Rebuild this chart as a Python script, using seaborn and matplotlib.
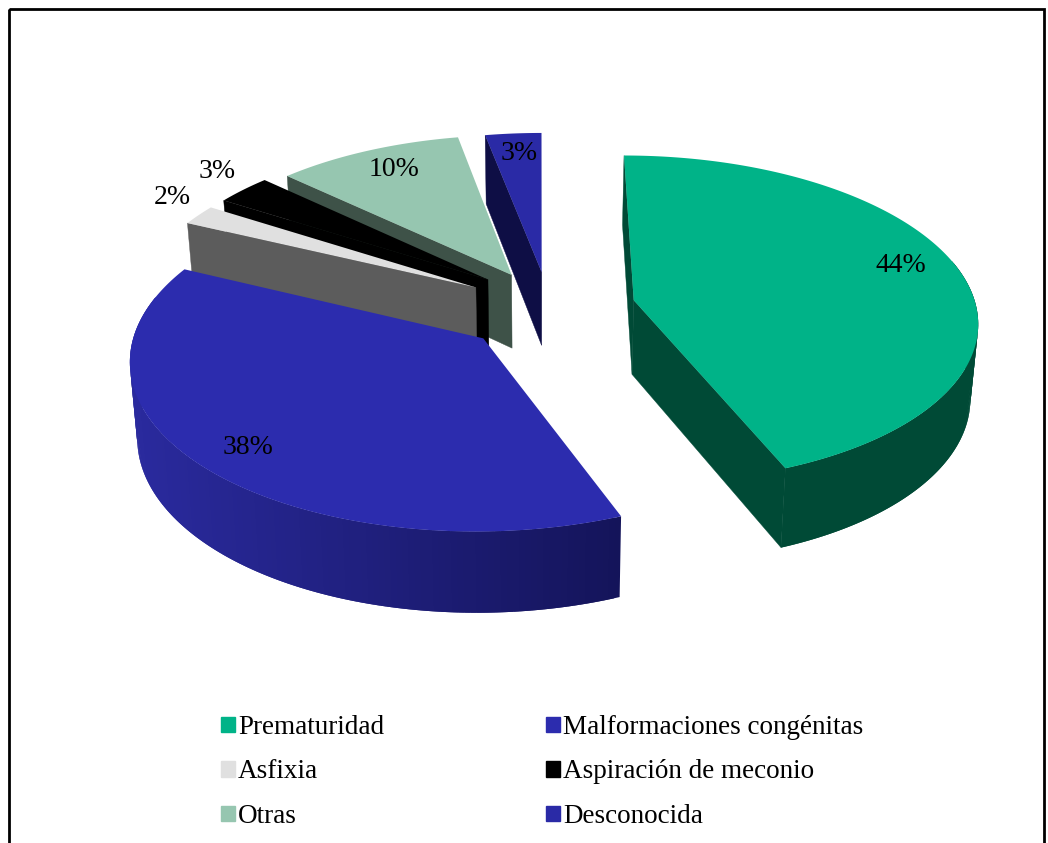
import numpy as np
import matplotlib
matplotlib.use("Agg")
import matplotlib.pyplot as plt
from matplotlib.colors import to_rgb
from matplotlib.patches import Patch, Rectangle
import seaborn as sns

# ---- data ----
categories = ["Prematuridad", "Malformaciones congénitas", "Asfixia",
              "Aspiración de meconio", "Otras", "Desconocida"]
values = [44, 38, 2, 3, 10, 3]

# ---- style ----
top_colors = ["#00b388", "#2c2cae", "#e0e0e0", "#000000", "#96c6b0", "#2a2aa6"]
radial_colors = ["#004a36", "#14145a", "#5c5c5c", "#000000", "#3e5248", "#0e0e45"]
wall_left = ["#004a36", "#2a2a9e", "#5c5c5c", "#000000", "#3e5248", "#0e0e45"]
wall_right = ["#004a36", "#14145a", "#5c5c5c", "#000000", "#3e5248", "#0e0e45"]
offset_u = [0.275, -0.162, -0.19, -0.155, -0.085, 0.005]
offset_v = [-0.02, -0.25, 0.06, 0.11, 0.14, 0.157]
label_xy = [(901, 265), (248, 448), (172, 198), (217, 172), (394, 169), (519, 153)]
draw_order = [5, 0, 4, 3, 2, 1]

VP_X, VP_Y, BASE_Y = 540.0, -1100.0, 297.0
RADIUS, PERSP, HEIGHT, SHRINK = 340.0, 0.115, 74.0, 0.018

sns.set_theme(style="white")
plt.rcParams["font.family"] = ["Liberation Serif", "DejaVu Serif"]
palette = sns.color_palette(top_colors)

fig = plt.figure(figsize=(10.48, 8.43), dpi=100)
ax = fig.add_axes([0, 0, 1, 1])
ax.set_xlim(0, 1048)
ax.set_ylim(843, 0)
ax.axis("off")


def project(u, v, z=0.0):
    w = 1.0 / (1.0 + PERSP * v)
    return (VP_X + RADIUS * u * w * (1.0 - SHRINK * z),
            VP_Y + (BASE_Y - VP_Y) * w + HEIGHT * z * w ** 0.6)


def mix(c1, c2, t):
    a, b = np.array(to_rgb(c1)), np.array(to_rgb(c2))
    return tuple(a + (b - a) * np.clip(t, 0, 1))


edges = np.cumsum([0] + values) / np.sum(values) * 2 * np.pi
for rank, i in enumerate(draw_order):
    a0, a1 = edges[i], edges[i + 1]
    th = np.linspace(a0, a1, max(int(values[i] * 4), 6) + 1)
    us = offset_u[i] + np.sin(th)
    vs = offset_v[i] + np.cos(th)
    au, av = offset_u[i], offset_v[i]
    z = 10 + rank * 3
    xt, yt = project(us, vs)
    xb, yb = project(us, vs, 1)
    pa, qa = project(au, av), project(au, av, 1)
    mid = len(th) // 2
    # radial faces, only where they turn towards the viewer
    for idx in (0, -1):
        ex, ey = xt[idx] - pa[0], yt[idx] - pa[1]
        side_mid = ex * (yt[mid] - pa[1]) - ey * (xt[mid] - pa[0])
        if ex * side_mid < 0:
            ax.fill([pa[0], xt[idx], xb[idx], qa[0]], [pa[1], yt[idx], yb[idx], qa[1]],
                    color=radial_colors[i], lw=0.3, zorder=z)
    # outer wall: overlapping strips so that the gradient has no seams
    vis = np.where(np.cos(th) < 0.25)[0]
    if len(vis) > 1:
        xmin, xmax = xt[vis].min(), xt[vis].max()
        for n in range(len(vis) - 1):
            a, b = vis[n], vis[n + 1]
            c = vis[min(n + 2, len(vis) - 1)]
            t = ((xt[a] + xt[b]) / 2 - xmin) / max(xmax - xmin, 1)
            ax.fill([xt[a], xt[b], xt[c], xb[c], xb[b], xb[a]],
                    [yt[a], yt[b], yt[c], yb[c], yb[b], yb[a]],
                    color=mix(wall_left[i], wall_right[i], t), lw=0, zorder=z + 1)
    # top face
    ax.fill(np.r_[pa[0], xt], np.r_[pa[1], yt], color=palette[i], lw=0, zorder=z + 2)

for (lx, ly), val in zip(label_xy, values):
    ax.text(lx, ly, f"{val}%", ha="center", va="center", fontsize=20,
            color="black", zorder=50)

# frame, cut by the bottom of the picture
ax.add_patch(Rectangle((9, 9), 1035, 900, fill=False, ec="black", lw=2, zorder=60))

# legend
order = [0, 2, 4, 1, 3, 5]
handles = [Patch(color=palette[i], label=categories[i]) for i in order]
ax.legend(handles=handles, ncol=2, loc="upper left",
          bbox_to_anchor=(221, 715), bbox_transform=ax.transData,
          frameon=False, fontsize=19.5, labelcolor="black", borderpad=0, borderaxespad=0,
          handlelength=0.5, handleheight=0.5, handletextpad=0.12,
          columnspacing=6.0, labelspacing=0.72)

fig.savefig("out.png", dpi=100)
